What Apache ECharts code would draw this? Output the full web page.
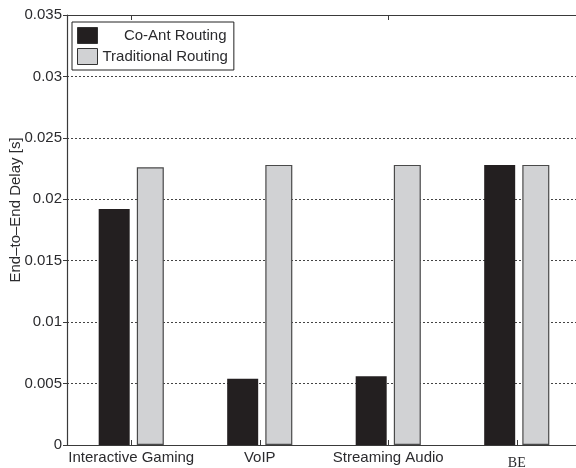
<!DOCTYPE html>
<html>
<head>
<meta charset="utf-8">
<script src="https://cdn.jsdelivr.net/npm/echarts@6/dist/echarts.min.js"></script>
<style>
  html, body { margin: 0; padding: 0; background: #ffffff; }
  #chart { width: 576px; height: 468px; }
</style>
</head>
<body>
<div id="chart"></div>
<script>
// Traffic classes on the x axis
const categories = ['Interactive Gaming', 'VoIP', 'Streaming Audio', 'BE'];
// Mean end-to-end delay per class, in seconds
const coAntDelay = [0.0192, 0.0054, 0.0056, 0.0228];
const traditionalDelay = [0.0226, 0.0228, 0.0228, 0.0228];
// Delay axis ticks
const yTicks = [0, 0.005, 0.01, 0.015, 0.02, 0.025, 0.03, 0.035];

const FONT = '"Liberation Sans", Arial, Helvetica, sans-serif';
const INK = '#2b2b2e';
const AXIS = '#3a3a3a';

const chart = echarts.init(document.getElementById('chart'), null, { renderer: 'canvas' });

chart.setOption({
  backgroundColor: '#ffffff',
  animation: false,
  grid: {
    left: 67, right: -5, top: 15, bottom: 23,
    containLabel: false,
    outerBoundsMode: 'none'
  },
  legend: {
    orient: 'vertical',
    left: 72,
    top: 22,
    icon: 'rect',
    itemWidth: 20,
    itemHeight: 16,
    itemGap: 4,
    padding: [5, 6, 5, 5],
    backgroundColor: '#ffffff',
    borderColor: '#222222',
    borderWidth: 1,
    borderRadius: 0,
    selectedMode: false,
    itemStyle: { borderColor: '#333333', borderWidth: 1 },
    textStyle: {
      fontFamily: FONT,
      fontSize: 15,
      color: INK,
      rich: {
        r: { fontFamily: FONT, fontSize: 15, color: INK, width: 124, align: 'right' },
        l: { fontFamily: FONT, fontSize: 15, color: INK, width: 124, align: 'left' }
      }
    },
    formatter: function (name) {
      return name === 'Co-Ant Routing' ? '{r|' + name + '}' : '{l|' + name + '}';
    },
    data: ['Co-Ant Routing', 'Traditional Routing']
  },
  xAxis: [
    {
      type: 'category',
      data: categories,
      position: 'bottom',
      boundaryGap: true,
      axisLine: { show: true, lineStyle: { color: AXIS, width: 1.2 } },
      axisTick: { show: true, inside: true, alignWithLabel: true, length: 5, lineStyle: { color: AXIS } },
      axisLabel: {
        fontFamily: FONT,
        fontSize: 15,
        color: INK,
        margin: 5,
        interval: 0,
        formatter: function (v) {
          return v === 'BE' ? '{be|' + v + '}' : v;
        },
        rich: {
          be: { fontFamily: '"Liberation Serif", "Times New Roman", serif', fontSize: 14, color: INK, padding: [6, 0, 0, 0] }
        }
      },
      splitLine: { show: false }
    },
    {
      type: 'category',
      data: categories,
      position: 'top',
      boundaryGap: true,
      axisLine: { show: true, lineStyle: { color: AXIS, width: 1.2 } },
      axisTick: { show: true, inside: true, alignWithLabel: true, length: 5, lineStyle: { color: AXIS } },
      axisLabel: { show: false },
      splitLine: { show: false }
    }
  ],
  yAxis: {
    type: 'value',
    min: yTicks[0],
    max: yTicks[yTicks.length - 1],
    interval: 0.005,
    name: 'End\u2013to\u2013End Delay [s]',
    nameLocation: 'middle',
    nameGap: 44,
    nameMoveOverlap: false,
    nameTextStyle: {
      fontFamily: FONT,
      fontSize: 15,
      color: INK,
      padding: [0, 0, 0, 40]
    },
    axisLine: { show: true, lineStyle: { color: AXIS, width: 1.2 } },
    axisTick: { show: true, inside: false, length: 4, lineStyle: { color: AXIS } },
    axisLabel: {
      fontFamily: FONT,
      fontSize: 15,
      color: INK,
      margin: 5,
      formatter: function (v) {
        return yTicks.indexOf(v) >= 0 ? String(v) : '';
      }
    },
    splitLine: {
      show: true,
      showMinLine: false,
      showMaxLine: false,
      lineStyle: { color: '#444444', type: [2, 2], width: 1 }
    }
  },
  series: [
    {
      name: 'Co-Ant Routing',
      type: 'bar',
      data: coAntDelay,
      barWidth: 31,
      barGap: '23%',
      itemStyle: { color: '#231f20', borderColor: '#231f20', borderWidth: 0 }
    },
    {
      name: 'Traditional Routing',
      type: 'bar',
      data: traditionalDelay,
      barWidth: 27,
      barGap: '23%',
      itemStyle: { color: '#d1d2d4', borderColor: '#4a4a4a', borderWidth: 1.2 }
    }
  ]
});
</script>
</body>
</html>
